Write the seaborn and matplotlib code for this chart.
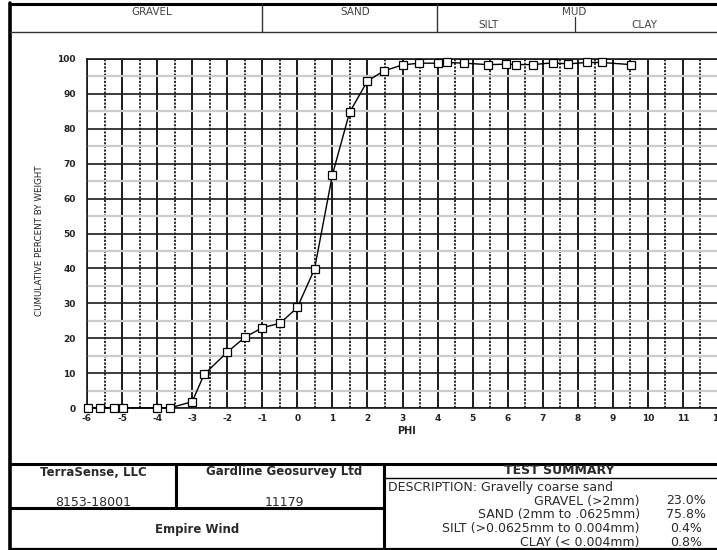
import matplotlib
matplotlib.use("Agg")
import matplotlib.pyplot as plt
import pandas as pd
import seaborn as sns
from matplotlib.lines import Line2D
from matplotlib.ticker import MultipleLocator

# Cumulative grain-size curve (phi scale)
phi = [-5.98, -5.64, -5.23, -4.98, -4.0, -3.64, -3.0, -2.66, -2.0, -1.49,
       -1.0, -0.49, 0.0, 0.49, 1.0, 1.49, 2.0, 2.47, 3.0, 3.47,
       4.0, 4.28, 4.76, 5.43, 5.94, 6.25, 6.73, 7.28, 7.73, 8.25,
       8.68, 9.51]
cum_pct = [0.0, 0.0, 0.0, 0.0, 0.0, 0.0, 1.8, 9.6, 16.0, 20.3,
           23.0, 24.3, 28.8, 39.8, 66.8, 84.7, 93.7, 96.6, 98.3, 98.8,
           98.8, 99.0, 98.8, 98.4, 98.5, 98.4, 98.4, 98.9, 98.6, 99.0,
           99.0, 98.4]

x_ticks = list(range(-6, 13))
y_ticks = list(range(0, 101, 10))

zone_names = ["GRAVEL", "SAND", "MUD"]
mud_parts = ["SILT", "CLAY"]

client = "TerraSense, LLC"
client_no = "8153-18001"
lab = "Gardline Geosurvey Ltd"
lab_no = "11179"
project = "Empire Wind"
description = "DESCRIPTION: Gravelly coarse sand"
summary_labels = ["GRAVEL (>2mm)", "SAND (2mm to .0625mm)",
                  "SILT (>0.0625mm to 0.004mm)", "CLAY (< 0.004mm)"]
summary_values = ["23.0%", "75.8%", "0.4%", "0.8%"]

sns.set_theme(style="white")
plt.rcParams["font.family"] = ["DejaVu Sans"]

W, H = 717, 550
fig = plt.figure(figsize=(W / 100, H / 100), dpi=100)


def fx(px):
    return px / W


def fy(py):
    return 1 - py / H


ax = fig.add_axes([fx(87), fy(408), (718 - 87) / W, (408 - 59) / H])

df = pd.DataFrame({"phi": phi, "pct": cum_pct})
sns.lineplot(data=df, x="phi", y="pct", ax=ax, color="black", lw=1.0,
             marker="s", markersize=5.8, markerfacecolor="white",
             markeredgecolor="black", markeredgewidth=0.9,
             estimator=None, sort=False, zorder=5)
for ln in ax.lines:
    ln.set_clip_on(False)
    ln.set_markerfacecolor("white")
    ln.set_markeredgecolor("black")

ax.set_xlim(-6, 12)
ax.set_ylim(0, 100)
ax.set_xticks(x_ticks)
ax.set_yticks(y_ticks)
ax.xaxis.set_minor_locator(MultipleLocator(0.5))
ax.yaxis.set_minor_locator(MultipleLocator(5))
ax.set_xticklabels([str(t) for t in x_ticks], fontweight="bold", fontsize=6.5,
                   color="#222222")
ax.set_yticklabels([str(t) for t in y_ticks], fontweight="bold", fontsize=6.5,
                   color="#222222")
ax.tick_params(axis="both", which="both", length=0)
ax.tick_params(axis="x", pad=4)
ax.tick_params(axis="y", pad=8)

ax.grid(which="major", axis="x", color="#1a1a1a", lw=1.4)
ax.grid(which="minor", axis="x", color="#1a1a1a", lw=1.3, ls=(0, (1.2, 0.8)))
ax.grid(which="major", axis="y", color="#1a1a1a", lw=1.2)
ax.grid(which="minor", axis="y", color="#cccccc", lw=1.6)
ax.set_axisbelow(True)
for s in ax.spines.values():
    s.set_color("#1a1a1a")
    s.set_linewidth(1.2)
ax.set_xlabel("")
ax.set_ylabel("")

fig.text(fx(407), fy(431), "PHI", ha="center", va="center", fontsize=7,
         fontweight="bold", color="#222222")
fig.text(fx(40), fy(241), "CUMULATIVE PERCENT BY WEIGHT", rotation=90,
         ha="center", va="center", fontsize=6.3, color="#222222")


def hline(y, x0, x1, lw=1.0, color="black"):
    fig.add_artist(Line2D([fx(x0), fx(x1)], [fy(y), fy(y)], lw=lw,
                          color=color, transform=fig.transFigure))


def vline(x, y0, y1, lw=1.0, color="black"):
    fig.add_artist(Line2D([fx(x), fx(x)], [fy(y0), fy(y1)], lw=lw,
                          color=color, transform=fig.transFigure))


# Outer frame and header band
vline(10, 3, 550, lw=2.6)
hline(4, 10, 717, lw=2.2)
hline(31.5, 10, 717, lw=1.0, color="#333333")
vline(262, 4, 31.5, lw=1.0, color="#333333")
vline(437, 4, 31.5, lw=1.0, color="#333333")
vline(575, 17, 31.5, lw=0.9, color="#333333")

hdr_kw = dict(ha="center", va="center", fontsize=7.5, color="#444444")
fig.text(fx(152), fy(12), zone_names[0], **hdr_kw)
fig.text(fx(355), fy(12), zone_names[1], **hdr_kw)
fig.text(fx(574), fy(12), zone_names[2], **hdr_kw)
fig.text(fx(489), fy(25), mud_parts[0], **hdr_kw)
fig.text(fx(644), fy(25), mud_parts[1], **hdr_kw)

# Info table below the chart
hline(464, 10, 717, lw=2.2)
vline(176, 464, 508, lw=2.2)
vline(384, 464, 550, lw=2.2)
hline(508, 10, 384, lw=2.2)
hline(478, 384, 717, lw=1.0)
hline(549, 10, 717, lw=1.6)

tb = dict(ha="center", va="center", color="#2a2a2a")
fig.text(fx(93), fy(472), client, fontsize=8.5, fontweight="bold", **tb)
fig.text(fx(93), fy(502), client_no, fontsize=9, **tb)
fig.text(fx(284), fy(472), lab, fontsize=8.5, fontweight="bold", **tb)
fig.text(fx(284), fy(503), lab_no, fontsize=9, **tb)
fig.text(fx(197), fy(529), project, fontsize=8.5, fontweight="bold", **tb)
fig.text(fx(559), fy(471), "TEST SUMMARY", fontsize=9, fontweight="bold", **tb)
fig.text(fx(388), fy(487), description, ha="left", va="center", fontsize=9,
         color="#2a2a2a")
for i, (lbl, val) in enumerate(zip(summary_labels, summary_values)):
    yy = 501 + i * 13.7
    fig.text(fx(640), fy(yy), lbl, ha="right", va="center", fontsize=9,
             color="#2a2a2a")
    fig.text(fx(686), fy(yy), val, ha="center", va="center", fontsize=9,
             color="#2a2a2a")

fig.savefig("out.png", dpi=100)
